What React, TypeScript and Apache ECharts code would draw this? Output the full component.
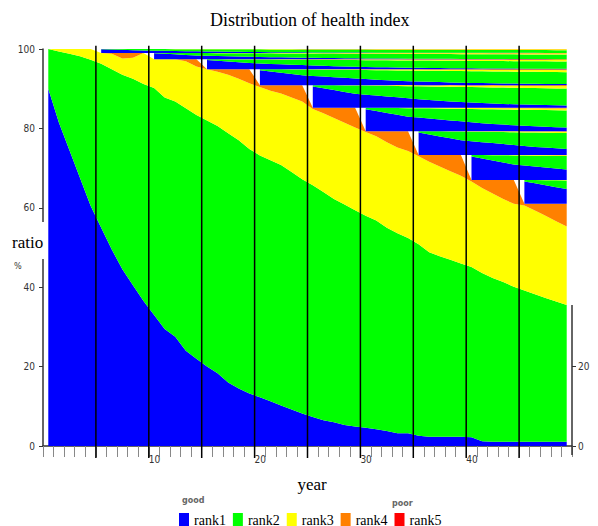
import React, { useEffect, useRef } from "react";
import * as echarts from "echarts";

// ---- data ----
const years = [
  0.5, 1.5, 2.5, 3.5, 4.5, 5.5, 6.5, 7.5, 8.5, 9.5,
  10.5, 11.5, 12.5, 13.5, 14.5, 15.5, 16.5, 17.5, 18.5, 19.5,
  20.5, 21.5, 22.5, 23.5, 24.5, 25.5, 26.5, 27.5, 28.5, 29.5,
  30.5, 31.5, 32.5, 33.5, 34.5, 35.5, 36.5, 37.5, 38.5, 39.5,
  40.5, 41.5, 42.5, 43.5, 44.5, 45.5, 46.5, 47.5, 48.5, 49.5,
];

// original population: upper edge of rank1 (blue)
const rank1Top = [
  90, 81.5, 74.5, 67.5, 60.5, 55, 49.5, 44.5, 40.5, 36.5,
  33, 29.5, 27.5, 24, 22, 20, 18.3, 16, 14.5, 13.2,
  12.3, 11.3, 10.2, 9.2, 8.2, 7.3, 6.5, 6.0, 5.3, 4.9,
  4.6, 4.2, 3.8, 3.2, 3.2, 2.6, 2.3, 2.3, 2.3, 2.3,
  2.2, 1.2, 1.1, 1.1, 1.1, 1.1, 1.1, 1.1, 1.1, 1.1,
];
// upper edge of rank2 (green)
const rank2Top = [
  100, 99.4, 98.8, 98.2, 97.3, 96.3, 94.9, 93.5, 92.5, 91.2,
  90.2, 87.8, 86.8, 85.1, 83.4, 82.0, 80.6, 78.8, 77.0, 74.8,
  73.2, 72.0, 70.8, 69.0, 67.2, 65.7, 64.0, 62.2, 60.8, 59.4,
  58.0, 56.8, 55.0, 53.6, 52.4, 50.8, 48.8, 47.8, 46.9, 46.0,
  45.1, 43.6, 42.3, 41.3, 40.1, 39.2, 38.2, 37.3, 36.4, 35.5,
];
// upper edge of rank3 (yellow)
const rank3Top = [
  100, 100, 100, 100, 100, 99, 98.8, 97.6, 97.8, 99,
  97.4, 97.4, 97.4, 96.9, 95.6, 94.9, 94.3, 93.5, 92.5, 91.4,
  90.4, 89.5, 88.8, 87.8, 86.8, 84.9, 83.8, 82.6, 81.4, 80.2,
  79.1, 78.0, 76.5, 75.2, 74.3, 73.0, 71.6, 70.4, 69.2, 68.1,
  66.6, 65.0, 63.6, 62.2, 61.0, 60.6, 59.3, 58.0, 56.6, 55.3,
];
// share of the original population in each 5-year period (upper edge of rank4)
const periodTotal = [100, 99, 97.4, 94.9, 90.9, 85.2, 79.3, 73.3, 67, 61];

// renewed groups entering every 5 years
const cohortStart = [5, 10, 15, 20, 25, 30, 35, 40, 45];
const cohortSize = [1, 1.6, 2.5, 4, 5.7, 5.9, 6, 6.3, 6];

// composition (%) of a renewed group by age 0.5, 1.5, ...
const youngRank1 = [
  94, 86, 78, 70, 62, 58, 54, 50, 46, 42,
  38, 34, 31, 28, 25, 23, 21, 19, 17, 15.5,
  14, 13, 12, 11, 10, 9.2, 8.5, 7.8, 7.2, 6.6,
  6, 5.5, 5, 4.6, 4.2, 3.9, 3.6, 3.3, 3, 2.8,
  2.6, 2.4, 2.2, 2, 1.9,
];
const youngRank3 = [
  0, 0.3, 0.7, 1.2, 1.6, 2, 2.6, 3, 3.4, 3.7,
  4.2, 4.8, 5.2, 5.5, 6, 6.6, 7, 7.3, 7.8, 8.4,
  8.8, 9, 9.6, 10.2, 10.5, 10.9, 11.4, 12, 12.3, 12.7,
  13.2, 13.8, 14.1, 14.5, 15, 15.6, 15.9, 16.3, 16.8, 17.4,
  17.7, 18, 18.6, 19.2, 19.5,
];
const youngRank4 = [
  0, 0, 0, 0, 0, 0, 0, 0.3, 0.5, 0.8,
  1, 1.2, 1.5, 1.8, 2, 2.2, 2.5, 2.8, 3, 3.2,
  3.5, 3.8, 4, 4.2, 4.5, 4.8, 5, 5.2, 5.5, 5.8,
  6, 6.2, 6.5, 6.8, 7, 7.2, 7.5, 7.8, 8, 8.2,
  8.5, 8.8, 9, 9.2, 9.5,
];

// vertical divider lines (years) and their extent (in % units, reaching past the axis)
const dividerYears = [5, 10, 15, 20, 25, 30, 35, 40, 45];
const dividerSpan = [-3, 100.8];

const xTickLabels = [10, 20, 30, 40];
const rightTickLabels = [0, 20];
const rankNames = ["rank1", "rank2", "rank3", "rank4", "rank5"];
const rankColors = ["#0000ff", "#00ff00", "#ffff00", "#ff8000", "#ff0000"];

const SERIF = "'Liberation Serif', 'Times New Roman', serif";
const NARROW = "'Liberation Sans Narrow', 'DejaVu Sans Condensed', 'Liberation Sans', sans-serif";

function areaSeries(name: string, color: string, values: (number | string)[]) {
  return {
    type: "line",
    name,
    stack: "total",
    xAxisIndex: 0,
    yAxisIndex: 0,
    data: values,
    symbol: "none",
    showSymbol: false,
    silent: true,
    lineStyle: { width: 0, color },
    itemStyle: { color },
    areaStyle: { color, opacity: 1 },
    emphasis: { disabled: true },
    connectNulls: false,
    z: 2,
  };
}

function buildSeries() {
  const r1 = rank1Top;
  const r2 = rank2Top.map((v, i) => +(v - rank1Top[i]).toFixed(2));
  const r3 = rank3Top.map((v, i) => +(v - rank2Top[i]).toFixed(2));
  const r4 = rank3Top.map((v, i) => +(periodTotal[Math.floor(i / 5)] - v).toFixed(2));
  const youngRank2 = youngRank1.map((v, a) => 100 - v - youngRank3[a] - youngRank4[a]);
  const profiles = [youngRank1, youngRank2, youngRank3, youngRank4];

  const series: any[] = [];
  [r1, r2, r3, r4].forEach((vals, r) => series.push(areaSeries(rankNames[r], rankColors[r], vals)));
  series.push({
    type: "line",
    name: "rank5",
    stack: "total",
    xAxisIndex: 0,
    yAxisIndex: 0,
    data: [],
    symbol: "none",
    silent: true,
    itemStyle: { color: rankColors[4] },
    lineStyle: { width: 0, color: rankColors[4] },
    areaStyle: { color: rankColors[4], opacity: 1 },
  });
  for (let k = cohortStart.length - 1; k >= 0; k--) {
    const start = cohortStart[k];
    const size = cohortSize[k];
    profiles.forEach((prof, r) => {
      const vals = years.map((_, i) => {
        const age = i - start;
        return age < 0 ? "-" : +((size * prof[age]) / 100).toFixed(3);
      });
      series.push(areaSeries(rankNames[r], rankColors[r], vals));
    });
  }
  dividerYears.forEach((x) => {
    series.push({
      type: "line",
      name: "divider",
      xAxisIndex: 1,
      yAxisIndex: 0,
      data: dividerSpan.map((y) => [x, y]),
      symbol: "none",
      silent: true,
      clip: false,
      lineStyle: { color: "#000", width: 1.5 },
      itemStyle: { color: "#000" },
      emphasis: { disabled: true },
      z: 5,
    });
  });
  return series;
}

export default function App() {
  const ref = useRef<HTMLDivElement>(null);
  useEffect(() => {
    if (!ref.current) return;
    const chart = echarts.init(ref.current, undefined, { renderer: "svg" });
    chart.setOption({
      animation: false,
      backgroundColor: "#ffffff",
      title: {
        text: "Distribution of health index",
        left: 205,
        top: 6,
        textStyle: { fontFamily: SERIF, fontSize: 18, fontWeight: "normal", color: "#000" },
      },
      legend: {
        data: rankNames.map((n) => ({ name: n, icon: "rect" })),
        left: 174,
        top: 508,
        itemWidth: 10,
        itemHeight: 14,
        itemGap: 7,
        selectedMode: false,
        textStyle: { fontFamily: SERIF, fontSize: 14, color: "#000" },
      },
      grid: { left: 43, right: 26, top: 49, bottom: 80, containLabel: false },
      xAxis: [
        {
          type: "category",
          data: years.map(String),
          boundaryGap: true,
          show: false,
        },
        {
          type: "value",
          position: "bottom",
          min: 0,
          max: 50,
          interval: 1,
          axisLine: { show: true, lineStyle: { color: "#333", width: 1.5 } },
          axisTick: { show: true, length: 11, lineStyle: { color: "#888", width: 1 } },
          axisLabel: {
            align: "left",
            margin: 8,
            fontFamily: NARROW,
            fontSize: 10,
            color: "#333",
            formatter: (v: number) => (xTickLabels.includes(v) ? String(v) : ""),
          },
          splitLine: { show: false },
        },
      ],
      yAxis: [
        {
          type: "value",
          min: 0,
          max: 100,
          interval: 20,
          axisLine: { show: true, lineStyle: { color: "#333", width: 1.5 } },
          axisTick: { show: true, length: 4, lineStyle: { color: "#333" } },
          axisLabel: { margin: 8, fontFamily: NARROW, fontSize: 10, color: "#333" },
          splitLine: { show: false },
        },
        {
          type: "value",
          position: "right",
          min: 0,
          max: 100,
          interval: 20,
          axisLine: { show: false },
          axisTick: { show: true, length: 4, customValues: rightTickLabels, lineStyle: { color: "#333" } },
          axisLabel: {
            margin: 6,
            customValues: rightTickLabels,
            fontFamily: NARROW,
            fontSize: 10,
            color: "#333",
            formatter: (v: number) => (rightTickLabels.includes(v) ? String(v) : ""),
          },
          splitLine: { show: false },
        },
      ],
      graphic: [
        { type: "rect", z: 100, shape: { x: 36, y: 222, width: 12, height: 37 }, style: { fill: "#fff" } },
        {
          type: "text", z: 101, x: 12, y: 242,
          style: { text: "ratio", font: `17px ${SERIF}`, fill: "#000", verticalAlign: "middle" },
        },
        {
          type: "text", z: 101, x: 14, y: 266,
          style: { text: "%", font: `9px ${NARROW}`, fill: "#333", verticalAlign: "middle" },
        },
        {
          type: "text", z: 101, x: 312, y: 484,
          style: { text: "year", font: `17px ${SERIF}`, fill: "#000", align: "center", verticalAlign: "middle" },
        },
        {
          type: "line", z: 100,
          shape: { x1: 572, y1: 305, x2: 572, y2: 455 },
          style: { stroke: "#333", lineWidth: 1.5 },
        },
        {
          type: "text", z: 101, x: 182, y: 500,
          style: { text: "good", font: `bold 8px 'DejaVu Sans', sans-serif`, fill: "#666", verticalAlign: "middle" },
        },
        {
          type: "text", z: 101, x: 392, y: 503,
          style: { text: "poor", font: `bold 8px 'DejaVu Sans', sans-serif`, fill: "#666", verticalAlign: "middle" },
        },
      ],
      series: buildSeries(),
    });
    return () => chart.dispose();
  }, []);
  return (
    <div
      ref={ref}
      style={{ position: "fixed", left: 0, top: 0, width: 598, height: 526, background: "#fff" }}
    />
  );
}
